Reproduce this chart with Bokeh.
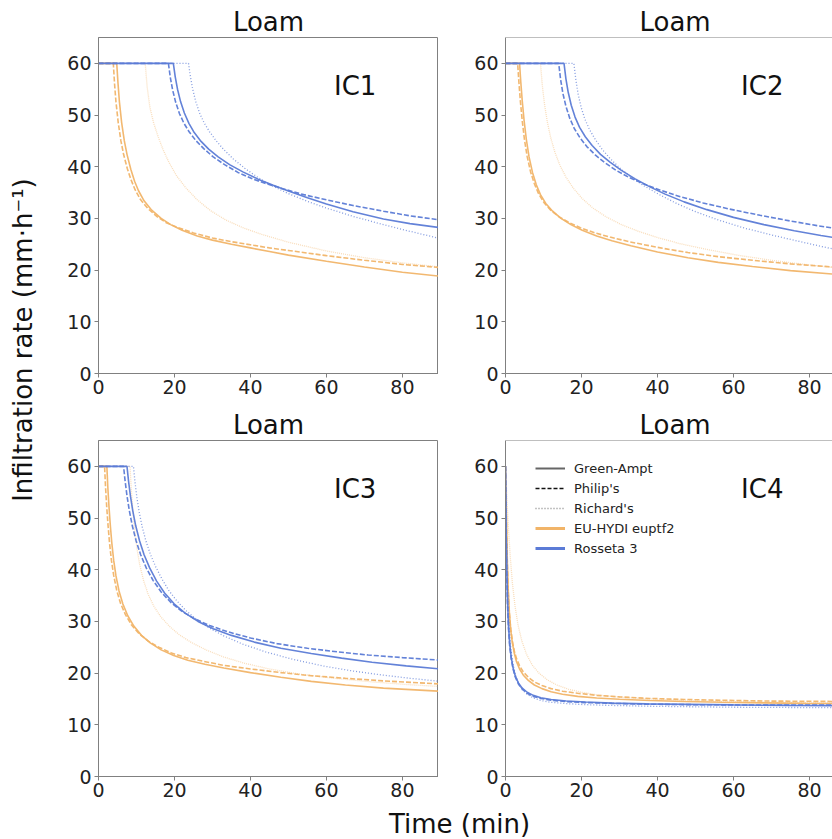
import numpy as np
from bokeh.plotting import figure
from bokeh.models import GridPlot, Label, Span, Legend, LegendItem, FixedTicker, Range1d
from bokeh.embed import file_html
from bokeh.resources import INLINE

FONT = "DejaVu Sans"
ORANGE = "#F1B468"
BLUE = "#5B7BD6"
AXIS_GREY = "#808080"

X_TICKS = [0, 20, 40, 60, 80]
Y_TICKS = [0, 10, 20, 30, 40, 50, 60]
PANEL_TITLES = ["Loam", "Loam", "Loam", "Loam"]
PANEL_TAGS = ["IC1", "IC2", "IC3", "IC4"]
LEGEND_LABELS = ["Green-Ampt", "Philip's", "Richard's", "EU-HYDI euptf2", "Rosseta 3"]
Y_LABEL = "Infiltration rate (mm\u00b7h\u207b\u00b9)"
X_LABEL = "Time (min)"

# ---------------- IC1 ----------------
IC1_EU_GA_T = [0, 4.8, 5.1, 5.5, 6.1, 6.8, 7.5, 8.5, 9.5, 10.5, 12, 14, 16.5, 19, 22, 26, 30, 35, 40, 45, 50, 60, 70, 80, 90]
IC1_EU_GA_F = [60, 60, 56.5, 52.6, 48.5, 45.0, 42.4, 39.5, 37.2, 35.4, 33.4, 31.6, 30.0, 28.8, 27.7, 26.6, 25.8, 25.0, 24.3, 23.6, 22.9, 21.7, 20.6, 19.6, 18.8]
IC1_EU_PH_T = [0, 3.9, 4.2, 4.6, 5.2, 5.9, 6.6, 7.6, 8.6, 9.6, 11, 13, 15.5, 18, 21, 25, 30, 35, 40, 45, 50, 60, 70, 80, 90]
IC1_EU_PH_F = [60, 60, 56.3, 52.5, 48.5, 45.0, 42.4, 39.6, 37.4, 35.6, 33.7, 31.9, 30.3, 29.1, 28.2, 27.2, 26.2, 25.5, 24.9, 24.3, 23.8, 22.8, 21.9, 21.1, 20.5]
IC1_EU_RI_T = [0, 12.3, 12.8, 13.5, 14.5, 15.7, 17, 18.5, 20.5, 23, 26, 29.5, 33.5, 38, 43, 50, 60, 70, 80, 90]
IC1_EU_RI_F = [60, 60, 55.5, 51.6, 48.5, 45.8, 43.3, 40.9, 38.3, 35.9, 33.6, 31.5, 29.7, 28.2, 26.9, 25.4, 23.7, 22.4, 21.4, 20.6]
IC1_RO_GA_T = [0, 19.7, 20.2, 20.8, 21.6, 22.6, 23.8, 25.2, 27, 29, 31.5, 34.5, 38, 42, 46, 50, 55, 60, 67, 75, 82, 90]
IC1_RO_GA_F = [60, 60, 57.4, 55.0, 52.6, 50.4, 48.4, 46.6, 44.9, 43.4, 41.9, 40.4, 39.0, 37.6, 36.4, 35.3, 34.0, 32.8, 31.3, 29.9, 29.0, 28.2]
IC1_RO_PH_T = [0, 18.4, 18.9, 19.5, 20.3, 21.3, 22.5, 23.9, 25.7, 27.7, 30.2, 33.2, 36.7, 40.7, 44.7, 48.7, 54, 60, 67, 75, 82, 90]
IC1_RO_PH_F = [60, 60, 57.3, 54.9, 52.5, 50.3, 48.4, 46.7, 45.0, 43.5, 41.9, 40.4, 38.9, 37.6, 36.6, 35.7, 34.6, 33.6, 32.5, 31.4, 30.5, 29.7]
IC1_RO_RI_T = [0, 23.7, 24.2, 24.8, 25.6, 26.6, 27.8, 29.2, 31, 33, 35.5, 38.5, 42, 46, 50, 55, 60, 67, 75, 82, 90]
IC1_RO_RI_F = [60, 60, 57.4, 55.0, 52.6, 50.4, 48.5, 46.8, 45.0, 43.3, 41.5, 39.7, 37.9, 36.2, 34.8, 33.3, 32.0, 30.4, 28.8, 27.5, 26.1]

# ---------------- IC2 ----------------
IC2_EU_GA_T = [0, 3.7, 4.0, 4.4, 4.9, 5.5, 6.2, 7.1, 8.1, 9.2, 10.6, 12.4, 14.6, 17.2, 20.2, 24, 28, 33, 40, 48, 56, 65, 75, 90]
IC2_EU_GA_F = [60, 60, 56.6, 52.8, 48.9, 45.2, 41.9, 38.9, 36.5, 34.6, 32.9, 31.4, 30.0, 28.8, 27.7, 26.6, 25.7, 24.7, 23.5, 22.4, 21.5, 20.7, 19.9, 19.0]
IC2_EU_PH_T = [0, 3.2, 3.5, 3.9, 4.4, 5.0, 5.7, 6.6, 7.6, 8.7, 10.1, 11.9, 14.1, 16.7, 19.7, 23.5, 27.5, 32.5, 40, 48, 56, 65, 75, 90]
IC2_EU_PH_F = [60, 60, 56.6, 52.8, 48.9, 45.2, 42.0, 39.0, 36.7, 34.8, 33.1, 31.6, 30.3, 29.2, 28.2, 27.2, 26.4, 25.5, 24.4, 23.4, 22.6, 21.9, 21.2, 20.4]
IC2_EU_RI_T = [0, 9.2, 9.7, 10.3, 11.0, 11.9, 13.0, 14.3, 15.9, 17.8, 20.1, 23, 26.5, 30.5, 35, 40, 46, 53, 61, 70, 80, 90]
IC2_EU_RI_F = [60, 60, 55.6, 51.9, 48.7, 45.6, 42.8, 40.3, 38.0, 35.9, 33.9, 32.0, 30.3, 28.8, 27.5, 26.3, 25.1, 24.0, 22.9, 21.9, 21.0, 20.2]
IC2_RO_GA_T = [0, 15.4, 15.9, 16.5, 17.3, 18.3, 19.5, 21.0, 22.8, 25.0, 27.5, 30.5, 34, 38, 42, 47, 53, 60, 68, 76, 83, 90]
IC2_RO_GA_F = [60, 60, 57.0, 54.4, 51.9, 49.6, 47.6, 45.8, 44.1, 42.4, 40.9, 39.3, 37.7, 36.1, 34.7, 33.2, 31.7, 30.2, 28.8, 27.6, 26.7, 25.9]
IC2_RO_PH_T = [0, 14, 14.5, 15.1, 15.9, 16.9, 18.1, 19.6, 21.4, 23.6, 26.1, 29.1, 32.6, 36.6, 41, 46, 52, 59, 67, 75, 82, 90]
IC2_RO_PH_F = [60, 60, 56.9, 54.2, 51.7, 49.4, 47.4, 45.6, 43.9, 42.3, 40.8, 39.3, 37.9, 36.6, 35.4, 34.2, 33.0, 31.8, 30.6, 29.5, 28.6, 27.7]
IC2_RO_RI_T = [0, 18, 18.5, 19.1, 19.9, 20.9, 22.1, 23.6, 25.4, 27.5, 30, 33, 36.5, 40.5, 45, 50, 56, 63, 70, 77, 83, 90]
IC2_RO_RI_F = [60, 60, 56.9, 54.1, 51.5, 49.2, 47.2, 45.3, 43.4, 41.6, 39.8, 38.0, 36.3, 34.6, 32.9, 31.3, 29.7, 28.1, 26.8, 25.6, 24.6, 23.5]

# ---------------- IC3 ----------------
IC3_EU_GA_T = [0, 2.2, 2.45, 2.75, 3.1, 3.5, 4.0, 4.6, 5.4, 6.4, 7.7, 9.3, 11.3, 13.7, 16.5, 19.8, 23.5, 28, 33, 40, 48, 56, 65, 75, 90]
IC3_EU_GA_F = [60, 60, 56.0, 52.3, 48.7, 45.2, 41.8, 38.8, 35.9, 33.4, 31.1, 29.1, 27.3, 25.8, 24.5, 23.4, 22.5, 21.7, 21.0, 20.1, 19.2, 18.4, 17.7, 17.1, 16.5]
IC3_EU_PH_T = [0, 1.6, 1.85, 2.15, 2.5, 2.9, 3.4, 4.0, 4.8, 5.8, 7.1, 8.7, 10.7, 13.1, 15.9, 19.2, 23, 27.5, 33, 40, 48, 56, 65, 75, 90]
IC3_EU_PH_F = [60, 60, 56.0, 52.3, 48.7, 45.2, 41.8, 38.9, 36.0, 33.5, 31.3, 29.3, 27.6, 26.2, 25.0, 23.9, 23.0, 22.3, 21.5, 20.8, 20.1, 19.5, 19.0, 18.5, 17.9]
IC3_EU_RI_T = [0, 8.3, 8.6, 9.0, 9.5, 10.1, 10.9, 11.9, 13.1, 14.6, 16.4, 18.6, 21.3, 24.5, 28.3, 33, 38.5, 45, 53, 62, 72, 81, 90]
IC3_EU_RI_F = [60, 60, 56.0, 51.8, 47.8, 44.2, 40.8, 37.8, 35.2, 32.9, 30.9, 29.1, 27.4, 25.9, 24.5, 23.1, 21.9, 20.8, 19.8, 19.0, 18.3, 17.8, 17.4]
IC3_RO_GA_T = [0, 7.5, 7.9, 8.4, 9.0, 9.8, 10.8, 12.0, 13.5, 15.3, 17.4, 19.9, 22.8, 26.2, 30.2, 35, 41, 48, 56, 64, 72, 81, 90]
IC3_RO_GA_F = [60, 60, 57.2, 54.3, 51.5, 48.5, 45.6, 42.9, 40.3, 37.8, 35.5, 33.4, 31.6, 30.0, 28.6, 27.3, 26.0, 24.8, 23.8, 22.9, 22.1, 21.4, 20.8]
IC3_RO_PH_T = [0, 6.6, 7.0, 7.5, 8.1, 8.9, 9.9, 11.1, 12.6, 14.4, 16.5, 19.0, 21.9, 25.3, 29.3, 34, 40, 47, 55, 63, 71, 80, 90]
IC3_RO_PH_F = [60, 60, 57.2, 54.3, 51.5, 48.5, 45.6, 42.9, 40.3, 37.9, 35.7, 33.7, 32.0, 30.5, 29.2, 28.0, 26.8, 25.7, 24.8, 24.1, 23.5, 23.0, 22.5]
IC3_RO_RI_T = [0, 9.2, 9.6, 10.1, 10.7, 11.5, 12.5, 13.7, 15.1, 16.7, 18.5, 20.6, 23, 25.8, 29, 33, 38, 44, 51, 59, 67, 75, 82, 90]
IC3_RO_RI_F = [60, 60, 57.0, 54.0, 51.2, 48.3, 45.5, 42.9, 40.5, 38.2, 36.0, 34.0, 32.1, 30.4, 28.8, 27.2, 25.6, 24.1, 22.7, 21.4, 20.4, 19.6, 19.0, 18.4]

# ---------------- IC4 ----------------
IC4_EU_GA_T = [0, 0.15, 0.3, 0.5, 0.75, 1.05, 1.4, 1.8, 2.3, 2.9, 3.7, 4.7, 6, 7.6, 9.6, 12, 15, 19, 24, 30, 38, 47, 57, 68, 79, 90]
IC4_EU_GA_F = [60, 54, 48, 41, 35.5, 31.3, 28.2, 25.9, 23.9, 22.2, 20.8, 19.6, 18.6, 17.7, 17.0, 16.4, 15.9, 15.5, 15.2, 14.95, 14.7, 14.5, 14.35, 14.25, 14.15, 14.1]
IC4_EU_PH_T = [0, 0.15, 0.3, 0.5, 0.75, 1.05, 1.4, 1.8, 2.3, 2.9, 3.7, 4.7, 6, 7.6, 9.6, 12, 15, 19, 24, 30, 38, 47, 57, 68, 79, 90]
IC4_EU_PH_F = [60, 53, 47, 40.5, 35.3, 31.3, 28.4, 26.2, 24.3, 22.8, 21.4, 20.2, 19.2, 18.3, 17.6, 17.0, 16.5, 16.1, 15.7, 15.4, 15.1, 14.9, 14.75, 14.6, 14.55, 14.5]
IC4_EU_RI_T = [0, 0.3, 0.7, 1.2, 1.8, 2.5, 3.3, 4.3, 5.5, 7, 8.8, 11, 13.5, 16.5, 20, 25, 31, 38, 46, 55, 65, 77, 90]
IC4_EU_RI_F = [60, 55, 49, 43, 37.5, 33, 29.3, 26.2, 23.7, 21.6, 20.0, 18.7, 17.7, 16.9, 16.3, 15.7, 15.3, 15.0, 14.75, 14.55, 14.4, 14.3, 14.2]
IC4_RO_GA_T = [0, 0.1, 0.2, 0.35, 0.55, 0.8, 1.1, 1.5, 2.0, 2.6, 3.4, 4.4, 5.7, 7.3, 9.3, 12, 16, 21, 28, 37, 48, 60, 75, 90]
IC4_RO_GA_F = [60, 53, 46, 39.5, 33.5, 29, 25.7, 23.1, 21.0, 19.4, 18.1, 17.1, 16.3, 15.7, 15.25, 14.9, 14.6, 14.4, 14.2, 14.05, 13.95, 13.85, 13.75, 13.7]
IC4_RO_PH_T = [0, 0.1, 0.2, 0.35, 0.55, 0.8, 1.1, 1.5, 2.0, 2.6, 3.4, 4.4, 5.7, 7.3, 9.3, 12, 16, 21, 28, 37, 48, 60, 75, 90]
IC4_RO_PH_F = [60, 52, 45, 38.5, 32.8, 28.5, 25.3, 22.8, 20.8, 19.2, 17.9, 16.9, 16.1, 15.5, 15.1, 14.75, 14.5, 14.3, 14.15, 14.0, 13.9, 13.85, 13.8, 13.8]
IC4_RO_RI_T = [0, 0.15, 0.3, 0.5, 0.75, 1.05, 1.45, 1.95, 2.6, 3.4, 4.4, 5.7, 7.3, 9.3, 12, 16, 21, 28, 37, 48, 60, 75, 90]
IC4_RO_RI_F = [60, 51, 44, 37.5, 32, 27.8, 24.4, 21.8, 19.7, 18.0, 16.8, 15.9, 15.2, 14.7, 14.35, 14.1, 13.9, 13.75, 13.6, 13.5, 13.4, 13.35, 13.3]

# line styles (source -> colour ; method -> dash)
STYLE = {
    ("EU", "GA"): dict(line_color=ORANGE, line_dash="solid", line_width=1.6, line_alpha=0.95),
    ("EU", "PH"): dict(line_color=ORANGE, line_dash="5 2", line_width=1.6, line_alpha=0.95),
    ("EU", "RI"): dict(line_color=ORANGE, line_dash="1 1", line_width=1.3, line_alpha=0.45),
    ("RO", "GA"): dict(line_color=BLUE, line_dash="solid", line_width=1.6, line_alpha=0.95),
    ("RO", "PH"): dict(line_color=BLUE, line_dash="5 2", line_width=1.6, line_alpha=0.95),
    ("RO", "RI"): dict(line_color=BLUE, line_dash="1 2", line_width=1.3, line_alpha=0.75),
}

PANELS = {
    "IC1": [(("EU", "RI"), IC1_EU_RI_T, IC1_EU_RI_F), (("EU", "GA"), IC1_EU_GA_T, IC1_EU_GA_F),
            (("EU", "PH"), IC1_EU_PH_T, IC1_EU_PH_F), (("RO", "RI"), IC1_RO_RI_T, IC1_RO_RI_F),
            (("RO", "GA"), IC1_RO_GA_T, IC1_RO_GA_F), (("RO", "PH"), IC1_RO_PH_T, IC1_RO_PH_F)],
    "IC2": [(("EU", "RI"), IC2_EU_RI_T, IC2_EU_RI_F), (("EU", "GA"), IC2_EU_GA_T, IC2_EU_GA_F),
            (("EU", "PH"), IC2_EU_PH_T, IC2_EU_PH_F), (("RO", "RI"), IC2_RO_RI_T, IC2_RO_RI_F),
            (("RO", "GA"), IC2_RO_GA_T, IC2_RO_GA_F), (("RO", "PH"), IC2_RO_PH_T, IC2_RO_PH_F)],
    "IC3": [(("EU", "RI"), IC3_EU_RI_T, IC3_EU_RI_F), (("EU", "GA"), IC3_EU_GA_T, IC3_EU_GA_F),
            (("EU", "PH"), IC3_EU_PH_T, IC3_EU_PH_F), (("RO", "RI"), IC3_RO_RI_T, IC3_RO_RI_F),
            (("RO", "GA"), IC3_RO_GA_T, IC3_RO_GA_F), (("RO", "PH"), IC3_RO_PH_T, IC3_RO_PH_F)],
    "IC4": [(("EU", "RI"), IC4_EU_RI_T, IC4_EU_RI_F), (("EU", "GA"), IC4_EU_GA_T, IC4_EU_GA_F),
            (("EU", "PH"), IC4_EU_PH_T, IC4_EU_PH_F), (("RO", "RI"), IC4_RO_RI_T, IC4_RO_RI_F),
            (("RO", "GA"), IC4_RO_GA_T, IC4_RO_GA_F), (("RO", "PH"), IC4_RO_PH_T, IC4_RO_PH_F)],
}


def make_panel(idx, right_col):
    tag = PANEL_TAGS[idx]
    xmax = 86.05 if right_col else 89.5
    width = 394 if right_col else 393
    p = figure(width=width, height=403, x_range=Range1d(0, xmax), y_range=Range1d(0, 65),
               output_backend="svg", toolbar_location=None,
               min_border_left=67 if right_col else 53, min_border_right=0,
               min_border_top=37, min_border_bottom=30)
    p.background_fill_color = "white"
    p.border_fill_color = "white"
    p.xgrid.visible = False
    p.ygrid.visible = False

    p.title.text = PANEL_TITLES[idx]
    p.title.text_font = FONT
    p.title.text_font_size = "26px"
    p.title.text_font_style = "normal"
    p.title.text_color = "#111111"
    p.title.standoff = 1
    if right_col:
        p.title.align = "left"
        p.title.offset = 134
    else:
        p.title.align = "center"

    p.xaxis.ticker = FixedTicker(ticks=X_TICKS, minor_ticks=[])
    p.yaxis.ticker = FixedTicker(ticks=Y_TICKS, minor_ticks=[])
    for ax in (p.xaxis[0], p.yaxis[0]):
        ax.axis_line_color = AXIS_GREY
        ax.major_tick_line_color = AXIS_GREY
        ax.major_tick_in = 0
        ax.major_tick_out = 4
        ax.minor_tick_in = 0
        ax.minor_tick_out = 0
        ax.major_label_text_font = FONT
        ax.major_label_text_font_size = "19px"
        ax.major_label_text_color = "#222222"
    p.xaxis.major_label_standoff = 2
    p.yaxis.major_label_standoff = 3

    if right_col:
        p.outline_line_color = None
        p.add_layout(Span(location=65, dimension="width", line_color=AXIS_GREY, line_width=1))
    else:
        p.outline_line_color = AXIS_GREY
        p.outline_line_alpha = 1

    for key, t, f in PANELS[tag]:
        p.line(t, f, **STYLE[key])

    p.add_layout(Label(x=62, y=55.6, text=tag, text_font=FONT, text_font_size="26px",
                       text_baseline="middle", text_align="left", text_color="#111111"))
    return p


p1 = make_panel(0, False)
p2 = make_panel(1, True)
p3 = make_panel(2, False)
p4 = make_panel(3, True)

# legend in the IC4 panel (proxy lines placed outside the visible range)
OFF_X = [-20, -10]
OFF_Y = [-20, -20]
r_ga = p4.line(OFF_X, OFF_Y, line_color="#666666", line_width=2)
r_ph = p4.line(OFF_X, OFF_Y, line_color="#111111", line_width=1.5, line_dash="4 2")
r_ri = p4.line(OFF_X, OFF_Y, line_color="#888888", line_width=1.3, line_dash="1 2")
r_eu = p4.line(OFF_X, OFF_Y, line_color=ORANGE, line_width=3)
r_ro = p4.line(OFF_X, OFF_Y, line_color=BLUE, line_width=3)
legend = Legend(items=[LegendItem(label=lab, renderers=[r]) for lab, r in
                       zip(LEGEND_LABELS, [r_ga, r_ph, r_ri, r_eu, r_ro])],
                location=(30, 218), label_text_font=FONT, label_text_font_size="13px",
                label_text_color="#222222", glyph_width=30, glyph_height=20, label_height=20,
                label_standoff=9, padding=5, spacing=0, margin=0,
                border_line_color=None, background_fill_alpha=0)
p4.add_layout(legend)

# shared y label
yl = figure(width=45, height=806, x_range=Range1d(0, 45), y_range=Range1d(0, 806),
            x_axis_type=None, y_axis_type=None, min_border=0,
            output_backend="svg", toolbar_location=None)
yl.outline_line_color = None
yl.xgrid.visible = False
yl.ygrid.visible = False
yl.add_layout(Label(x=22, y=476, text=Y_LABEL, angle=np.pi / 2, text_align="center",
                    text_baseline="middle", text_font=FONT, text_font_size="26px",
                    text_color="#111111"))

# shared x label (spans the full width)
xl = figure(width=832, height=33, x_range=Range1d(0, 832), y_range=Range1d(0, 33),
            x_axis_type=None, y_axis_type=None, min_border=0,
            output_backend="svg", toolbar_location=None)
xl.outline_line_color = None
xl.xgrid.visible = False
xl.ygrid.visible = False
xl.add_layout(Label(x=459, y=16, text=X_LABEL, text_align="center", text_baseline="middle",
                    text_font=FONT, text_font_size="26px", text_color="#111111"))

grid = GridPlot(children=[(yl, 0, 0, 2, 1), (p1, 0, 1), (p2, 0, 2), (p3, 1, 1), (p4, 1, 2),
                          (xl, 2, 0, 1, 3)], toolbar_location=None, spacing=0)

open("out.html", "w").write(file_html(grid, INLINE))
